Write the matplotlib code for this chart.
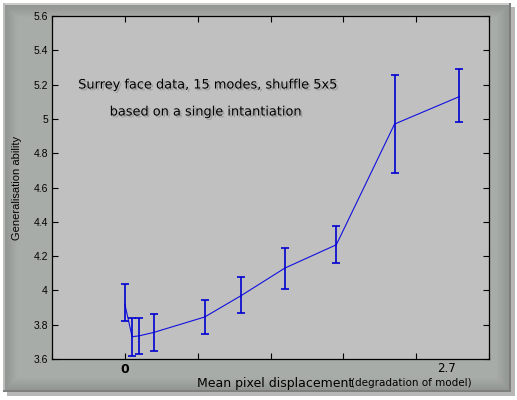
import matplotlib
matplotlib.use("Agg")
import matplotlib.pyplot as plt
import matplotlib.patheffects as pe
import numpy as np

# values
displacement = [0.0, 0.06, 0.118, 0.238, 0.658, 0.959, 1.318, 1.742, 2.222, 2.756]
generalisation = [3.92, 3.73, 3.735, 3.755, 3.845, 3.97, 4.13, 4.266, 4.97, 5.13]
gen_low = [3.82, 3.62, 3.63, 3.645, 3.745, 3.87, 4.01, 4.16, 4.685, 4.98]
gen_high = [4.04, 3.84, 3.84, 3.86, 3.945, 4.08, 4.25, 4.375, 5.255, 5.29]

x_ticks = [-0.6, 0.0, 0.6, 1.2, 1.8, 2.4, 3.0]
x_tick_labels = ["", "0", "", "", "", "", ""]
y_ticks = [3.6, 3.8, 4.0, 4.2, 4.4, 4.6, 4.8, 5.0, 5.2, 5.4, 5.6]
y_tick_labels = ["3.6", "3.8", "4", "4.2", "4.4", "4.6", "4.8", "5", "5.2", "5.4", "5.6"]

comic = "DejaVu Sans"
arial = "Liberation Sans"

fig = plt.figure(figsize=(5.17, 4.0), dpi=100)

# grey bevelled panel behind everything
W, H = 517, 400
bg = np.ones((H, W, 3))
yy, xx = np.mgrid[0:H, 0:W]
x0, x1, y0, y1 = 3, 511, 3, 392
# drop shadow
sh = (xx >= x0 + 4) & (xx < x1 + 4) & (yy >= y0 + 4) & (yy < y1 + 4)
bg[sh] = 0.72
inside = (xx >= x0) & (xx < x1) & (yy >= y0) & (yy < y1)
d = np.minimum.reduce([xx - x0, x1 - 1 - xx, yy - y0, y1 - 1 - yy]).astype(float)
shade = 0.56 + 0.10 * np.clip(d / 14.0, 0, 1)
panel = np.stack([shade, shade + 0.015, shade], axis=-1)
bg[inside] = panel[inside]
bg[(yy >= y0) & (yy < y0 + 2) & (xx >= x0) & (xx < x1)] = 0.80
bg[(xx >= x0) & (xx < x0 + 2) & (yy >= y0) & (yy < y1)] = 0.74
bg[(xx >= x1 - 2) & (xx < x1) & (yy >= y0) & (yy < y1)] = 0.50
bg[(yy >= y1 - 2) & (yy < y1) & (xx >= x0) & (xx < x1)] = 0.50
ax_bg = fig.add_axes([0, 0, 1, 1], zorder=-10)
ax_bg.imshow(bg, aspect="auto", interpolation="bilinear")
ax_bg.axis("off")

ax = fig.add_axes([52 / W, 1 - 359 / H, 437 / W, 343 / H])
ax.set_facecolor("#c0c0c0")

y = np.array(generalisation)
yerr = [y - np.array(gen_low), np.array(gen_high) - y]
ax.plot(displacement, generalisation, color="#1010e0", lw=0.8)
ax.errorbar(displacement, generalisation, yerr=yerr, fmt="none",
            ecolor="#0000d0", elinewidth=1.2, capsize=2.6, capthick=1.2)

ax.set_xlim(-0.6, 3.0)
ax.set_ylim(3.6, 5.6)
ax.set_xticks(x_ticks)
ax.set_xticklabels(x_tick_labels, fontfamily=comic, fontsize=9, fontweight="bold")
ax.set_yticks(y_ticks)
ax.set_yticklabels(y_tick_labels, fontfamily=arial, fontsize=7.5)
ax.tick_params(direction="in", length=4, width=0.8, top=True, right=True, pad=3)
ax.tick_params(axis="x", pad=3)
for s in ax.spines.values():
    s.set_linewidth(0.9)

ax.text(2.65, -0.008, "2.7", transform=ax.get_xaxis_transform(),
        ha="center", va="top", fontfamily=comic, fontsize=8.5)

fig.text(17 / W, 1 - 188 / H, "Generalisation ability", rotation=90,
         ha="center", va="center", fontfamily=arial, fontsize=8)
fig.text(197 / W, 1 - 383 / H, "Mean pixel displacement", ha="left", va="center",
         fontfamily=comic, fontsize=9)
fig.text(351 / W, 1 - 383 / H, "(degradation of model)", ha="left", va="center",
         fontfamily=comic, fontsize=7.5)

shadow = [pe.withSimplePatchShadow(offset=(1.3, -1.3), shadow_rgbFace="k", alpha=0.18)]
fig.text(208 / W, 1 - 85 / H, "Surrey face data, 15 modes, shuffle 5x5",
         ha="center", va="center", fontfamily=comic, fontsize=9.3, path_effects=shadow)
fig.text(206 / W, 1 - 112 / H, "based on a single intantiation",
         ha="center", va="center", fontfamily=comic, fontsize=9.3, path_effects=shadow)

fig.savefig("out.png", dpi=100)
